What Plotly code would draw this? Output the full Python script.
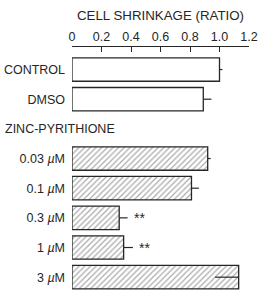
import plotly.graph_objects as go

# data
categories = ["CONTROL", "DMSO", "0.03 <i>µ</i>M", "0.1 <i>µ</i>M", "0.3 <i>µ</i>M", "1 <i>µ</i>M", "3 <i>µ</i>M"]
slots = [0, 1, 3, 4, 5, 6, 7]
values = [1.0, 0.89, 0.92, 0.81, 0.32, 0.35, 1.13]
err_plus = [0.02, 0.055, 0.02, 0.05, 0.057, 0.063, 0.0]
err_minus = [0.0, 0.0, 0.0, 0.0, 0.0, 0.0, 0.16]
hatched = [False, False, True, True, True, True, True]
signif = ["", "", "", "", "**", "**", ""]
group_label = "ZINC-PYRITHIONE"
group_slot = 2
x_ticks = [0, 0.2, 0.4, 0.6, 0.8, 1.0, 1.2]
x_ticktext = ["0", "0.2", "0.4", "0.6", "0.8", "1.0", "1.2"]
x_title = "CELL SHRINKAGE (RATIO)"

FONT = "Liberation Sans, Arial, sans-serif"
INK = "#262626"

fig = go.Figure()
fig.add_trace(go.Bar(
    x=values, y=slots, orientation="h", width=0.79,
    marker=dict(
        color="white",
        line=dict(color=INK, width=1.3),
        pattern=dict(
            shape=["/" if h else "" for h in hatched],
            fgcolor="#555555", bgcolor="white", size=4, solidity=0.3,
        ),
    ),
    error_x=dict(type="data", symmetric=False, array=err_plus, arrayminus=err_minus,
                 color=INK, thickness=1.2, width=0),
    showlegend=False,
))

annotations = []
for s, v, e, sig in zip(slots, values, err_plus, signif):
    if sig:
        annotations.append(dict(x=v + e + 0.08, y=s, xref="x", yref="y", text=sig,
                                showarrow=False, xanchor="center", yanchor="middle",
                                font=dict(family=FONT, size=14, color=INK)))
annotations.append(dict(x=0, y=group_slot, xref="paper", yref="y", text=group_label,
                        showarrow=False, xanchor="left", yanchor="middle", xshift=-69,
                        font=dict(family=FONT, size=12.5, color=INK)))

fig.update_layout(
    width=259, height=292,
    margin=dict(l=72, r=10, t=47, b=0),
    paper_bgcolor="white", plot_bgcolor="white",
    font=dict(family=FONT, size=12.5, color=INK),
    annotations=annotations,
    xaxis=dict(
        side="top", range=[0, 1.2], tickvals=x_ticks, ticktext=x_ticktext,
        ticks="inside", ticklen=5, tickcolor=INK, tickwidth=1.2,
        showline=True, linecolor=INK, linewidth=1.2,
        showgrid=False, zeroline=False,
        tickfont=dict(size=12.5),
        title=dict(text=x_title, font=dict(size=13.3), standoff=6),
    ),
    yaxis=dict(
        range=[7.5, -0.76], tickvals=slots, ticktext=categories,
        showgrid=False, zeroline=False, showline=False, ticks="",
        ticklabelstandoff=6, tickfont=dict(size=12.5),
    ),
)

fig.write_html("out.html")
